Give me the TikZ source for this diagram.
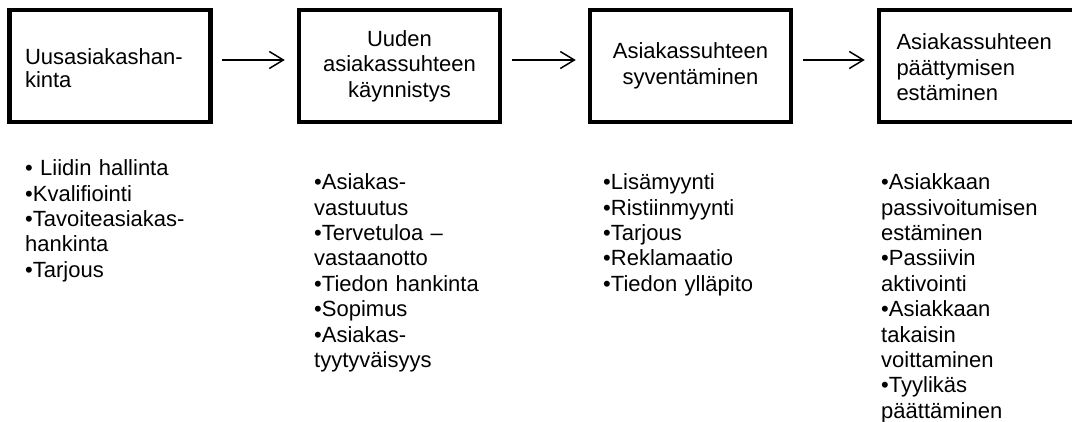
\documentclass[tikz,border=0pt]{standalone}
\usepackage{fontspec}
\setmainfont{Liberation Sans}
\usetikzlibrary{arrows.meta}
\begin{document}
\begin{tikzpicture}[x=1pt, y=-1pt, >={Straight Barb[length=14pt, width=17pt]},
    stage/.style={draw, line width=4.5pt, minimum width=201pt, minimum height=112pt, align=center, font=\fontsize{22}{25.5}\selectfont},
    stageleft/.style={stage, text width=170pt, inner xsep=15.5pt, align=left},
    padtop/.style={execute at begin node={\rule{0pt}{#1}}},
    link/.style={->, line width=1.5pt, shorten <=9.5pt, shorten >=12pt},
    items/.style={anchor=base west, inner sep=0pt, text width=220pt, align=left, font=\fontsize{22}{25.4}\selectfont}]
    \useasboundingbox (0,0) rectangle (1072,421);
    \node[stageleft, font=\fontsize{22}{22.7}\selectfont, padtop=20.7pt] (hankinta) at (110,66) {Uusasiakashan-\\kinta};
    \node[stage, padtop=27pt] (kaynnistys) at (399.5,66) {Uuden\\asiakassuhteen\\käynnistys};
    \node[stage, padtop=24.6pt] (syventaminen) at (690.5,66) {Asiakassuhteen\\syventäminen};
    \node[stageleft, inner xsep=17.5pt, text width=166pt, padtop=19pt] (estaminen) at (979.5,66) {Asiakassuhteen\\päättymisen\\estäminen};
    \draw[link] ([yshift=6pt]hankinta.east) -- ([yshift=6pt]kaynnistys.west);
    \draw[link] ([yshift=6pt]kaynnistys.east) -- ([yshift=6pt]syventaminen.west);
    \draw[link] ([yshift=6pt]syventaminen.east) -- ([yshift=6pt]estaminen.west);
    \node[items] (hankintalist) at (25,175.7) {• Liidin hallinta\\•Kvalifiointi\\•Tavoiteasiakas-\\hankinta\\•Tarjous};
    \node[items] (kaynnistyslist) at (314,189.6) {•Asiakas-\\vastuutus\\•Tervetuloa –\\vastaanotto\\•Tiedon hankinta\\•Sopimus\\•Asiakas-\\tyytyväisyys};
    \node[items] (syventaminenlist) at (603,189.6) {•Lisämyynti\\•Ristiinmyynti\\•Tarjous\\•Reklamaatio\\•Tiedon ylläpito};
    \node[items] (estaminenlist) at (881,189.6) {•Asiakkaan\\passivoitumisen\\estäminen\\•Passiivin\\aktivointi\\•Asiakkaan\\takaisin\\voittaminen\\•Tyylikäs\\päättäminen};
\end{tikzpicture}
\end{document}
